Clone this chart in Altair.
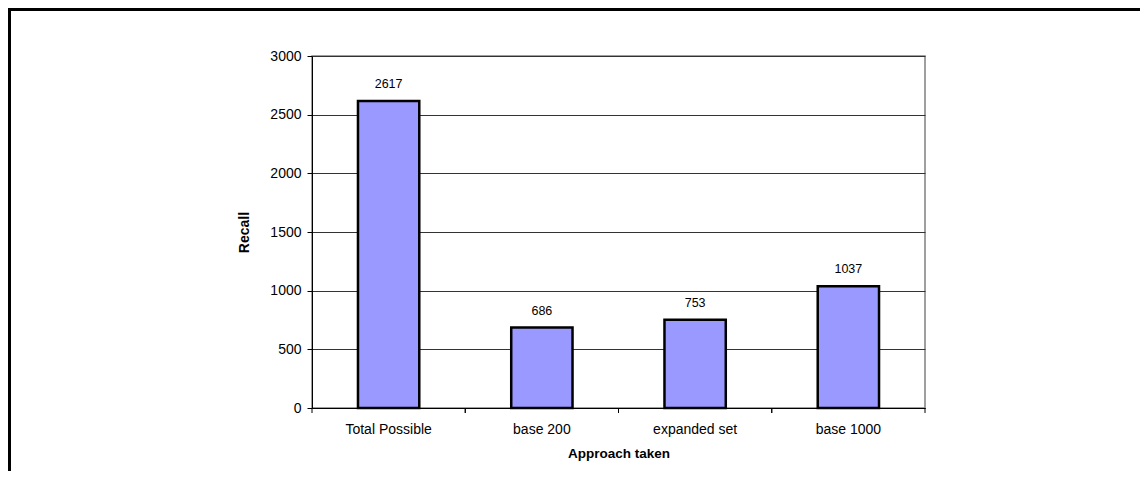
import altair as alt
import pandas as pd

categories = ["Total Possible", "base 200", "expanded set", "base 1000"]
recall = [2617, 686, 753, 1037]

df = pd.DataFrame({"approach": categories, "recall": recall})

W, H = 613, 352
FONT = "Liberation Sans"

x_enc = alt.X(
    "approach:N",
    sort=categories,
    scale=alt.Scale(paddingInner=0, paddingOuter=0),
    axis=alt.Axis(
        title="Approach taken",
        titleFontWeight="bold",
        titleFontSize=13.5,
        titleFont=FONT,
        titlePadding=10,
        labelFont=FONT,
        labelFontSize=14,
        labelColor="#000",
        labelAngle=0,
        labelPadding=14,
        ticks=False,
        domainColor="#000",
        titleColor="#000",
    ),
)
y_enc = alt.Y(
    "recall:Q",
    scale=alt.Scale(domain=[0, 3000], nice=False),
    axis=alt.Axis(
        title="Recall",
        titleFontWeight="bold",
        titleFontSize=14,
        titleFont=FONT,
        titleColor="#000",
        titlePadding=18,
        format="d",
        values=[0, 500, 1000, 1500, 2000, 2500, 3000],
        labelFont=FONT,
        labelFontSize=14,
        labelColor="#000",
        labelPadding=6,
        tickSize=5,
        tickColor="#000",
        domainColor="#000",
        gridColor="#333333",
        gridWidth=1,
    ),
)

base = alt.Chart(df)

bars = base.mark_bar(
    width=alt.RelativeBandSize(0.4),
    color="#9999FF",
    stroke="#000",
    strokeWidth=2.5,
).encode(x=x_enc, y=y_enc)

labels = base.mark_text(
    baseline="bottom", dy=-10, fontSize=12.5, font=FONT, color="#000"
).encode(x=alt.X("approach:N", sort=categories), y="recall:Q", text="recall:Q")

ticks_left = base.mark_rule(color="#000", strokeWidth=1).encode(
    x=alt.X("approach:N", sort=categories, bandPosition=0),
    y=alt.value(H),
    y2=alt.value(H + 5),
)
ticks_right = base.mark_rule(color="#000", strokeWidth=1).encode(
    x=alt.X("approach:N", sort=categories, bandPosition=1),
    y=alt.value(H),
    y2=alt.value(H + 5),
)

one = alt.Data(values=[{"a": 1}])
frame_top = alt.Chart(one).mark_rule(color="#000", strokeWidth=3).encode(
    x=alt.value(-303), x2=alt.value(1200), y=alt.value(-46.5)
)
frame_left = alt.Chart(one).mark_rule(color="#000", strokeWidth=3).encode(
    x=alt.value(-302.5), y=alt.value(-48), y2=alt.value(700)
)

chart = (
    alt.layer(frame_top, frame_left, bars, labels, ticks_left, ticks_right)
    .properties(
        width=W,
        height=H,
        autosize=alt.AutoSizeParams(type="none"),
        padding={"left": 304, "top": 48, "right": 215, "bottom": 63},
    )
    .configure_view(stroke="#808080", strokeWidth=1.5)
    .configure_axis(grid=True)
    .configure_axisX(grid=False)
)

chart.save("out.html", embed_options={"renderer": "svg", "actions": False})
